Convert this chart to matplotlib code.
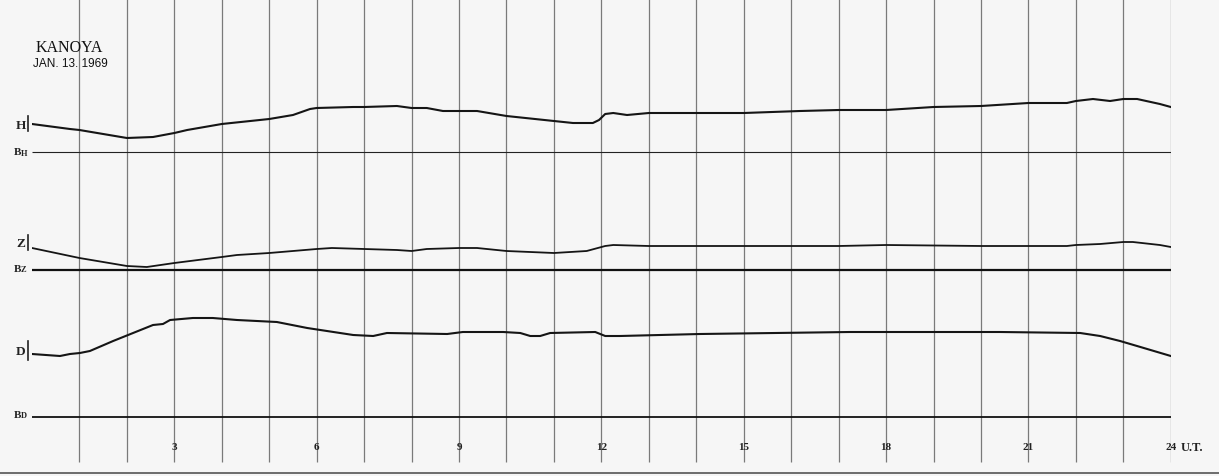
import matplotlib.pyplot as plt
import numpy as np

# magnetogram traces, deflection above baseline (arbitrary units) vs hour U.T.
h_hours = [0, 0.8, 1.0, 2.0, 2.55, 3.0, 3.27, 4.0, 4.6, 5.0, 5.5, 5.86, 6.0, 6.77, 7.0,
           7.69, 8.0, 8.32, 8.66, 9.0, 9.38, 10.0, 11.0, 11.4, 11.82, 11.95, 12.08, 12.25,
           12.54, 13.0, 14.0, 15.0, 16.19, 17.0, 18.0, 19.0, 20.0, 21.0, 21.81, 22.0,
           22.36, 22.72, 23.0, 23.29, 23.77, 24.0]
h_vals = [28, 23, 22, 14, 15, 19, 22, 28, 31, 33, 37, 43, 44, 45, 45,
          46, 44, 44, 41, 41, 41, 36, 31, 29, 29, 32, 38, 39,
          37, 39, 39, 39, 41, 42, 42, 45, 46, 49, 49, 51,
          53, 51, 53, 53, 48, 45]

z_hours = [0, 1, 2, 2.42, 3, 4, 4.32, 5, 6, 6.32, 7, 7.69, 8, 8.32, 9, 9.38, 10, 11,
           11.69, 12.08, 12.25, 13, 14, 16.19, 17, 18, 20, 21.81, 22, 22.51, 23.0,
           23.2, 23.77, 24]
z_vals = [22, 12, 4, 3, 7, 13, 15, 17, 21, 22, 21, 20, 19, 21, 22, 22, 19, 17,
          19, 24, 25, 24, 24, 24, 24, 25, 24, 24, 25, 26, 28,
          28, 25, 23]

d_hours = [0, 0.59, 0.8, 1.01, 1.22, 1.71, 2.55, 2.76, 2.91, 3.39, 3.81, 4.32, 5.16,
           5.8, 6.77, 7.19, 7.48, 8.75, 9.08, 9.93, 10.29, 10.5, 10.71, 10.92, 11.87,
           12.08, 12.39, 14.08, 17.24, 20.4, 22.09, 22.51, 22.93, 23.36, 24]
d_vals = [63, 61, 63, 64, 66, 76, 92, 93, 97, 99, 99, 97, 95,
          89, 82, 81, 84, 83, 85, 85, 84, 81, 81, 84, 85,
          81, 81, 83, 85, 85, 84, 81, 76, 70, 61]

hour_labels = ['3', '6', '9', '12', '15', '18', '21', '24']

# baselines (same vertical units)
base_h, base_z, base_d = 324, 206, 59

fig = plt.figure(figsize=(12.19, 4.77), dpi=100)
fig.patch.set_facecolor('#f6f6f6')
ax = fig.add_axes([32 / 1219, 0, 1138.8 / 1219, 1])
ax.set_xlim(0, 24)
ax.set_ylim(0, 477)
ax.axis('off')

# hour grid
ax.vlines(np.arange(1, 25), 14, 477, color='#7a7a7a', lw=0.9, zorder=1)

# baselines
ax.hlines(base_h, 0, 24, color='#222222', lw=0.8, zorder=2)
ax.hlines(base_z, 0, 24, color='#111111', lw=1.6, zorder=2)
ax.hlines(base_d, 0, 24, color='#111111', lw=1.3, zorder=2)

# traces
ax.plot(h_hours, np.array(h_vals) + base_h, color='#151515', lw=1.5, zorder=3)
ax.plot(z_hours, np.array(z_vals) + base_z, color='#151515', lw=1.3, zorder=3)
ax.plot(d_hours, np.array(d_vals) + base_d, color='#151515', lw=1.5, zorder=3)

# bottom edge of the sheet
ax.hlines(3, -1.5, 25.5, color='#555555', lw=1.2, clip_on=False)

serif = 'Liberation Serif'
fig.text(36 / 1219, 1 - 52 / 477, 'KANOYA', family=serif, fontsize=11.5, color='#111111')
fig.text(33 / 1219, 1 - 67 / 477, 'JAN. 13. 1969', family='Liberation Sans', fontsize=8.5,
         color='#111111')

# trace labels
def side_label(letter, small, y_letter, y_base, bar):
    fig.text(16 / 1219, 1 - y_letter / 477, letter, family=serif, fontsize=9.5,
             fontweight='bold', va='center', color='#222222')
    fig.text(14 / 1219, 1 - y_base / 477, 'B', family=serif, fontsize=8,
             fontweight='bold', va='center', color='#222222')
    fig.text(21 / 1219, 1 - (y_base + 0.5) / 477, small, family=serif, fontsize=6,
             fontweight='bold', va='center', color='#222222')
    fig.add_artist(plt.Line2D([28 / 1219, 28 / 1219], [1 - bar[0] / 477, 1 - bar[1] / 477],
                              color='#222222', lw=1.2))

side_label('H', 'H', 126, 153, (117, 132))
side_label('Z', 'Z', 244, 270, (236, 251))
side_label('D', 'D', 352, 416, (342, 361))

# hour axis labels
for lab in hour_labels:
    ax.text(float(lab), 477 - 448, lab, family=serif, fontsize=8, fontweight='bold',
            ha='center', va='center', color='#222222')
ax.text(24.2, 477 - 448, 'U.T.', family=serif, fontsize=9, fontweight='bold',
        ha='left', va='center', color='#222222', clip_on=False)

plt.savefig('out.png', dpi=100, facecolor=fig.get_facecolor())
plt.close('all')
